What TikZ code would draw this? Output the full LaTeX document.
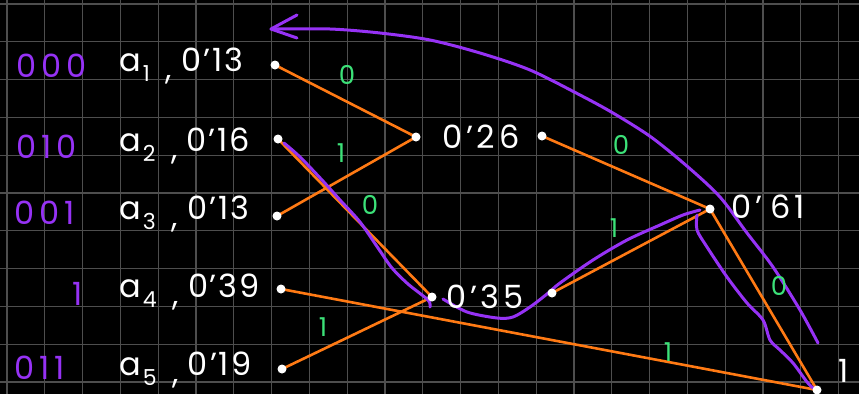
\documentclass[tikz,border=0pt]{standalone}
\usepackage{fontspec}
\setmainfont{Poppins}
\definecolor{gridc}{RGB}{78,78,78}
\definecolor{hor}{RGB}{255,122,20}
\definecolor{pur}{RGB}{150,50,245}
\definecolor{grn}{RGB}{60,225,120}
\newcommand{\lsub}[1]{\hspace{2pt}\raisebox{-10pt}{\fontsize{22}{22}\selectfont #1}}
\newcommand{\lcomma}{\hspace{16pt}\raisebox{-8pt}{,}\hspace{9pt}}
\begin{document}
\begin{tikzpicture}[x=1pt,y=-1pt,
  dot/.style={circle,fill=white,inner sep=0pt,minimum size=9pt},
  lbl/.style={text=white,font=\fontsize{32}{32}\selectfont\addfontfeature{LetterSpace=6},inner sep=0pt,anchor=west},
  mid/.style={lbl,font=\fontsize{32}{32}\selectfont\addfontfeature{LetterSpace=12}},
  code/.style={text=pur,font=\fontsize{32}{32}\selectfont\addfontfeature{LetterSpace=16},inner sep=0pt,anchor=west},
  bit/.style={text=grn,font=\fontsize{26}{26}\selectfont,inner sep=0pt},
  edge/.style={draw=hor,line width=2.6pt},
  trace/.style={draw=pur,line width=3pt,line cap=round,line join=round}]
\fill[black] (0,0) rectangle (859,394);
\useasboundingbox (0,0) rectangle (859,394);
\foreach \i in {0,...,22} \draw[gridc,line width=1.3pt] (7+37.8*\i,0) -- (7+37.8*\i,394);
\foreach \j in {0,...,10} \draw[gridc,line width=1.3pt] (0,4+37.8*\j) -- (859,4+37.8*\j);
% positions
\coordinate (p1) at (275,65);
\coordinate (p2) at (278,139);
\coordinate (p3) at (277,216);
\coordinate (p4) at (281,289);
\coordinate (p5) at (282,369);
\coordinate (q26) at (416,137);
\coordinate (r26) at (542,136);
\coordinate (q35) at (432,297);
\coordinate (r35) at (552,293);
\coordinate (q61) at (710,209);
\coordinate (root) at (817,390);
% orange edges
\draw[edge] (p1) -- (q26);
\draw[edge] (p3) -- (q26);
\draw[edge] (p2) -- (q35);
\draw[edge] (p5) -- (q35);
\draw[edge] (r26) -- (q61);
\draw[edge] (r35) -- (q61);
\draw[edge] (q61) -- (root);
\draw[edge] (p4) -- (root);
% purple traces
\draw[trace] plot[smooth] coordinates {(818,343) (800,310) (773,267) (747,233) (720,197) (688,167) (651,137) (613,113) (580,95) (530,70) (480,53) (430,40) (380,33) (330,29) (271,29)};
\draw[trace] (297,15) -- (271,29) -- (297,38);
\draw[trace] plot[smooth] coordinates {(284,143) (300,157) (322,180) (340,200) (360,222) (378,248) (392,268) (408,284) (428,300) (430,307)};
\draw[trace] plot[smooth] coordinates {(443,299) (467,312) (497,318) (513,317) (530,307) (547,294) (560,283) (593,260) (627,240) (660,225) (683,215) (700,210)};
\draw[trace] plot[smooth] coordinates {(697,215) (697,230) (707,247) (727,277) (747,303) (763,320) (770,340) (780,350) (793,363) (807,382) (813,388)};
% dots
\node[dot] (d1) at (p1) {};
\node[dot] (d2) at (p2) {};
\node[dot] (d3) at (p3) {};
\node[dot] (d4) at (p4) {};
\node[dot] (d5) at (p5) {};
\node[dot] (d26a) at (q26) {};
\node[dot] (d26b) at (r26) {};
\node[dot] (d35a) at (q35) {};
\node[dot] (d35b) at (r35) {};
\node[dot] (d61) at (q61) {};
\node[dot] (droot) at (root) {};
% labels
\node[lbl] (t1) at (119,66) {a\lsub{1}\lcomma 0'13};
\node[lbl] (t2) at (119,146) {a\lsub{2}\lcomma 0'16};
\node[lbl] (t3) at (119,214) {a\lsub{3}\lcomma 0'13};
\node[lbl] (t4) at (119,292) {a\lsub{4}\lcomma 0'39};
\node[lbl] (t5) at (119,370) {a\lsub{5}\lcomma 0'19};
\node[mid] (t26) at (442,137) {0'26};
\node[mid] (t35) at (446,297) {0'35};
\node[mid] (t61) at (731,207) {0'\hspace{8pt}61};
\node[lbl] (troot) at (838,371) {1};
% codes
\node[code] (c1) at (16,66) {000};
\node[code] (c2) at (16,147) {010};
\node[code] (c3) at (14,213) {001};
\node[code] (c4) at (72,294) {1};
\node[code] (c5) at (14,368) {011};
% bits
\node[bit] (b1) at (347,75) {0};
\node[bit] (b2) at (341,153) {1};
\node[bit] (b3) at (370,205) {0};
\node[bit] (b4) at (323,327) {1};
\node[bit] (b5) at (621,145) {0};
\node[bit] (b6) at (614,228) {1};
\node[bit] (b7) at (779,286) {0};
\node[bit] (b8) at (668,352) {1};
\end{tikzpicture}
\end{document}
